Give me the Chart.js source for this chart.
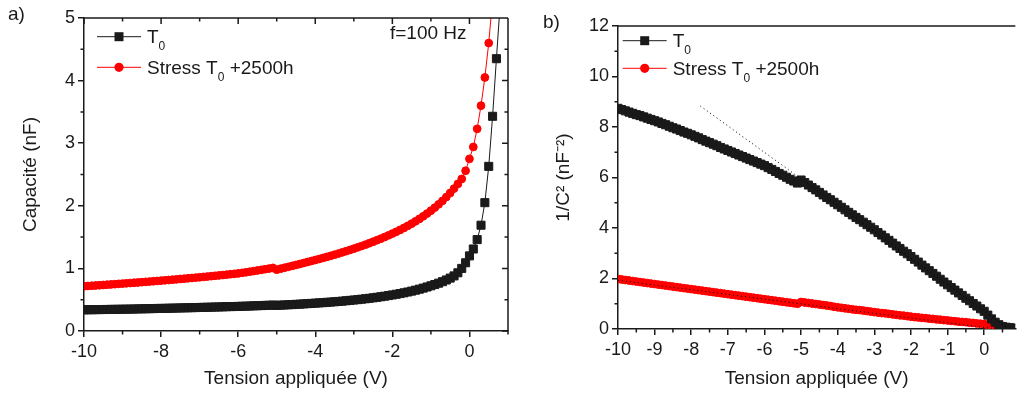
<!DOCTYPE html>
<html>
<head>
<meta charset="utf-8">
<script src="https://cdn.jsdelivr.net/npm/chart.js@4.4.1/dist/chart.umd.min.js"></script>
<style>
  body { margin: 0; background: #fff; }
  #left { position: absolute; left: 0; top: 0; }
  #right { position: absolute; left: 520px; top: 0; }
</style>
</head>
<body>
<canvas id="left" width="520" height="394"></canvas>
<canvas id="right" width="502" height="394"></canvas>
<script>
// applied voltage (V), one point every 0.1 V
const voltages = [
  -10.0, -9.9, -9.8, -9.7, -9.6, -9.5, -9.4, -9.3, -9.2, -9.1,
  -9.0, -8.9, -8.8, -8.7, -8.6, -8.5, -8.4, -8.3, -8.2, -8.1,
  -8.0, -7.9, -7.8, -7.7, -7.6, -7.5, -7.4, -7.3, -7.2, -7.1,
  -7.0, -6.9, -6.8, -6.7, -6.6, -6.5, -6.4, -6.3, -6.2, -6.1,
  -6.0, -5.9, -5.8, -5.7, -5.6, -5.5, -5.4, -5.3, -5.2, -5.1,
  -5.0, -4.9, -4.8, -4.7, -4.6, -4.5, -4.4, -4.3, -4.2, -4.1,
  -4.0, -3.9, -3.8, -3.7, -3.6, -3.5, -3.4, -3.3, -3.2, -3.1,
  -3.0, -2.9, -2.8, -2.7, -2.6, -2.5, -2.4, -2.3, -2.2, -2.1,
  -2.0, -1.9, -1.8, -1.7, -1.6, -1.5, -1.4, -1.3, -1.2, -1.1,
  -1.0, -0.9, -0.8, -0.7, -0.6, -0.5, -0.4, -0.3, -0.2, -0.1,
  0.0, 0.1, 0.2, 0.3, 0.4, 0.5, 0.6, 0.7, 0.8
];

// a) capacitance (nF)
const capT0 = [
  0.338, 0.339, 0.340, 0.341, 0.342, 0.343, 0.344, 0.345, 0.346, 0.347,
  0.348, 0.349, 0.350, 0.351, 0.353, 0.354, 0.355, 0.357, 0.358, 0.360,
  0.361, 0.362, 0.364, 0.365, 0.367, 0.368, 0.370, 0.371, 0.373, 0.374,
  0.376, 0.378, 0.379, 0.381, 0.383, 0.384, 0.386, 0.388, 0.390, 0.391,
  0.393, 0.395, 0.397, 0.399, 0.402, 0.404, 0.406, 0.409, 0.411, 0.414,
  0.410, 0.413, 0.416, 0.419, 0.422, 0.426, 0.429, 0.433, 0.437, 0.441,
  0.445, 0.449, 0.453, 0.458, 0.462, 0.467, 0.472, 0.477, 0.483, 0.489,
  0.495, 0.501, 0.508, 0.515, 0.522, 0.530, 0.538, 0.547, 0.556, 0.566,
  0.576, 0.587, 0.598, 0.610, 0.623, 0.637, 0.652, 0.668, 0.685, 0.703,
  0.722, 0.742, 0.764, 0.788, 0.815, 0.845, 0.880, 0.930, 1.000, 1.090,
  1.200, 1.310, 1.460, 1.690, 2.050, 2.630, 3.430, 4.350, 5.250
];
const capStress = [
  0.715, 0.719, 0.723, 0.727, 0.731, 0.735, 0.740, 0.744, 0.748, 0.753,
  0.757, 0.762, 0.766, 0.771, 0.775, 0.780, 0.785, 0.790, 0.795, 0.800,
  0.805, 0.810, 0.815, 0.820, 0.825, 0.831, 0.836, 0.842, 0.847, 0.853,
  0.858, 0.864, 0.870, 0.876, 0.882, 0.888, 0.894, 0.900, 0.907, 0.913,
  0.920, 0.929, 0.938, 0.947, 0.957, 0.967, 0.977, 0.987, 0.997, 1.008,
  0.980, 0.995, 1.010, 1.025, 1.040, 1.055, 1.070, 1.086, 1.102, 1.118,
  1.134, 1.150, 1.167, 1.184, 1.201, 1.219, 1.237, 1.256, 1.275, 1.295,
  1.315, 1.336, 1.357, 1.379, 1.402, 1.426, 1.450, 1.475, 1.501, 1.528,
  1.556, 1.585, 1.615, 1.647, 1.680, 1.715, 1.752, 1.791, 1.832, 1.876,
  1.922, 1.971, 2.023, 2.079, 2.140, 2.205, 2.275, 2.350, 2.430, 2.560,
  2.750, 2.940, 3.230, 3.600, 4.050, 4.600, 5.300, null, null
];

// b) 1/C^2 (nF^-2)
const invT0 = [
  8.74, 8.69, 8.64, 8.59, 8.54, 8.49, 8.45, 8.40, 8.35, 8.30,
  8.25, 8.20, 8.14, 8.09, 8.03, 7.97, 7.92, 7.86, 7.80, 7.75,
  7.69, 7.63, 7.57, 7.50, 7.44, 7.38, 7.32, 7.26, 7.19, 7.13,
  7.07, 7.01, 6.95, 6.89, 6.83, 6.77, 6.71, 6.65, 6.59, 6.53,
  6.47, 6.39, 6.32, 6.24, 6.16, 6.09, 6.01, 5.93, 5.86, 5.78,
  5.90, 5.80, 5.70, 5.60, 5.51, 5.41, 5.31, 5.21, 5.12, 5.02,
  4.92, 4.82, 4.72, 4.62, 4.52, 4.42, 4.33, 4.23, 4.13, 4.03,
  3.93, 3.82, 3.72, 3.61, 3.51, 3.40, 3.29, 3.19, 3.08, 2.98,
  2.87, 2.76, 2.65, 2.53, 2.42, 2.31, 2.20, 2.09, 1.97, 1.86,
  1.75, 1.64, 1.54, 1.43, 1.33, 1.22, 1.12, 1.01, 0.91, 0.80,
  0.70, 0.55, 0.40, 0.27, 0.17, 0.10, 0.07, 0.05, 0.04
];
const invStress = [
  1.98, 1.96, 1.94, 1.92, 1.90, 1.88, 1.86, 1.84, 1.82, 1.80,
  1.78, 1.76, 1.74, 1.72, 1.70, 1.68, 1.66, 1.64, 1.62, 1.60,
  1.58, 1.56, 1.54, 1.52, 1.50, 1.48, 1.46, 1.44, 1.42, 1.40,
  1.38, 1.36, 1.34, 1.32, 1.30, 1.28, 1.26, 1.24, 1.22, 1.20,
  1.18, 1.16, 1.14, 1.12, 1.10, 1.08, 1.06, 1.04, 1.02, 1.00,
  1.07, 1.05, 1.03, 1.01, 0.99, 0.97, 0.95, 0.93, 0.91, 0.88,
  0.86, 0.84, 0.82, 0.80, 0.78, 0.76, 0.75, 0.73, 0.71, 0.69,
  0.67, 0.65, 0.63, 0.62, 0.60, 0.58, 0.56, 0.54, 0.53, 0.51,
  0.49, 0.47, 0.46, 0.44, 0.43, 0.41, 0.40, 0.38, 0.37, 0.35,
  0.34, 0.32, 0.31, 0.29, 0.28, 0.27, 0.25, 0.24, 0.22, 0.21,
  0.20, 0.16, 0.12, 0.08, 0.06, 0.05, 0.04, null, null
];

// linear fits shown as dotted lines on b)
const fitT0V = [-7.75, 0.67];
const fitT0Y = [8.83, 0];
const fitStressV = [-10, 0.33];
const fitStressY = [1.93, 0];

const FONT = "'Liberation Sans', Arial, sans-serif";
const INK = "#1a1a1a";
const RED = "#ff0000";

function points(xs, ys) {
  return xs.map(function (x, i) { return { x: x, y: ys[i] }; });
}

function drawParts(ctx, parts, x, y) {
  parts.forEach(function (p) {
    ctx.font = (p[1] ? "12px " : "19px ") + FONT;
    ctx.fillText(p[0], x, p[1] ? y + 7 : y);
    x += ctx.measureText(p[0]).width;
  });
}

function drawMarker(ctx, style, x, y) {
  ctx.beginPath();
  if (style === "rect") {
    ctx.rect(x - 4.5, y - 4.5, 9, 9);
  } else {
    ctx.arc(x, y, 4.6, 0, Math.PI * 2);
  }
  ctx.fill();
}

function minorValues(scale) {
  const t = scale.ticks.map(function (k) { return k.value; });
  const step = t[1] - t[0];
  const out = [];
  for (let i = 0; i < t.length; i++) {
    const m = t[i] + step / 2;
    if (m <= scale.max) out.push(m);
  }
  return out;
}

// minor ticks, mirrored frame, legend and panel labels
const decor = {
  id: "decor",
  afterDraw(chart, args, opts) {
    const ctx = chart.ctx;
    const a = chart.chartArea;
    const xs = chart.scales.x;
    const ys = chart.scales.y;
    ctx.save();
    ctx.strokeStyle = INK;
    ctx.lineWidth = 1.5;
    ctx.beginPath();
    ctx.moveTo(a.left, a.top);
    ctx.lineTo(a.right, a.top);
    minorValues(xs).forEach(function (v) {
      const px = xs.getPixelForValue(v);
      ctx.moveTo(px, a.bottom);
      ctx.lineTo(px, a.bottom + 3.5);
    });
    minorValues(ys).forEach(function (v) {
      const py = ys.getPixelForValue(v);
      ctx.moveTo(a.left, py);
      ctx.lineTo(a.left - 3.5, py);
    });
    if (opts.mirror) {
      ctx.moveTo(a.right, a.top);
      ctx.lineTo(a.right, a.bottom);
      xs.ticks.forEach(function (k) {
        const px = xs.getPixelForValue(k.value);
        ctx.moveTo(px, a.top);
        ctx.lineTo(px, a.top + 6);
      });
      minorValues(xs).forEach(function (v) {
        const px = xs.getPixelForValue(v);
        ctx.moveTo(px, a.top);
        ctx.lineTo(px, a.top + 3.5);
      });
      ys.ticks.forEach(function (k) {
        const py = ys.getPixelForValue(k.value);
        ctx.moveTo(a.right, py);
        ctx.lineTo(a.right - 6, py);
      });
      minorValues(ys).forEach(function (v) {
        const py = ys.getPixelForValue(v);
        ctx.moveTo(a.right, py);
        ctx.lineTo(a.right - 3.5, py);
      });
    }
    ctx.stroke();

    // legend
    const lg = opts.legend;
    const entries = [
      { color: INK, style: "rect", parts: [["T", 0], ["0", 1]] },
      { color: RED, style: "circle", parts: [["Stress T", 0], ["0", 1], [" +2500h", 0]] }
    ];
    entries.forEach(function (e, i) {
      const y = lg.y + i * lg.gap;
      ctx.strokeStyle = e.color;
      ctx.fillStyle = e.color;
      ctx.lineWidth = 1;
      ctx.beginPath();
      ctx.moveTo(lg.x, y);
      ctx.lineTo(lg.x + 44, y);
      ctx.stroke();
      drawMarker(ctx, e.style, lg.x + 22, y);
      ctx.fillStyle = INK;
      ctx.textBaseline = "alphabetic";
      drawParts(ctx, e.parts, lg.x + 50, y + 6.6);
    });

    ctx.fillStyle = INK;
    ctx.font = "19px " + FONT;
    ctx.fillText(opts.panel, opts.panelX, opts.panelY);
    if (opts.note) ctx.fillText(opts.note, opts.noteX, opts.noteY);
    ctx.restore();
  }
};

function axisX(max, step, height) {
  return {
    type: "linear",
    min: -10,
    max: max,
    afterFit: function (s) { s.height = height; },
    border: { color: INK, width: 1.5 },
    grid: { drawOnChartArea: false, color: INK, lineWidth: 1.5, tickLength: 6 },
    ticks: {
      stepSize: step, includeBounds: false, padding: 4, color: INK,
      maxRotation: 0, autoSkip: false, font: { family: FONT, size: 18 }
    },
    title: {
      display: true, text: "Tension appliquée (V)", color: INK,
      font: { family: FONT, size: 19 }, padding: { top: 0, bottom: 4 }
    }
  };
}

function axisY(max, step, width, title, titlePad) {
  return {
    type: "linear",
    min: 0,
    max: max,
    afterFit: function (s) { s.width = width; },
    border: { color: INK, width: 1.5 },
    grid: { drawOnChartArea: false, color: INK, lineWidth: 1.5, tickLength: 6 },
    ticks: { stepSize: step, padding: 3, color: INK, font: { family: FONT, size: 18 } },
    title: {
      display: true, text: title, color: INK,
      font: { family: FONT, size: 19 }, padding: { top: titlePad, bottom: 0 }
    }
  };
}

function dataset(label, data, color, style, radius) {
  return {
    label: label,
    data: data,
    borderColor: color,
    backgroundColor: color,
    borderWidth: 1,
    pointStyle: style,
    pointRadius: radius,
    pointBorderWidth: 1,
    pointHoverRadius: radius,
    clip: 0
  };
}

function fitSet(xs, ys) {
  return {
    data: points(xs, ys),
    borderColor: "#000",
    borderWidth: 1,
    borderDash: [1, 3],
    pointRadius: 0,
    clip: 0
  };
}

new Chart(document.getElementById("left"), {
  type: "line",
  data: {
    datasets: [
      dataset("T0", points(voltages, capT0), INK, "rect", 5.7),
      dataset("Stress T0 +2500h", points(voltages, capStress), RED, "circle", 3.9)
    ]
  },
  options: {
    responsive: false,
    animation: false,
    layout: { padding: { top: 18, right: 12, left: 0, bottom: 0 } },
    scales: {
      x: axisX(1, 2, 63),
      y: axisY(5, 1, 84, "Capacité (nF)", 19)
    },
    plugins: {
      legend: { display: false },
      tooltip: { enabled: false },
      decor: {
        mirror: true,
        legend: { x: 97, y: 36.7, gap: 30.6 },
        panel: "a)", panelX: 8, panelY: 20,
        note: "f=100 Hz", noteX: 390, noteY: 38.5
      }
    }
  },
  plugins: [decor]
});

new Chart(document.getElementById("right"), {
  type: "line",
  data: {
    datasets: [
      fitSet(fitT0V, fitT0Y),
      fitSet(fitStressV, fitStressY),
      dataset("T0", points(voltages, invT0), INK, "rect", 5.7),
      dataset("Stress T0 +2500h", points(voltages, invStress), RED, "circle", 3.9)
    ]
  },
  options: {
    responsive: false,
    animation: false,
    layout: { padding: { top: 26, right: 0, left: 0, bottom: 0 } },
    scales: {
      x: axisX(0.85, 1, 65),
      y: axisY(12, 2, 98, "1/C² (nF⁻²)", 32)
    },
    plugins: {
      legend: { display: false },
      tooltip: { enabled: false },
      decor: {
        mirror: false,
        legend: { x: 102.7, y: 40.7, gap: 27.6 },
        panel: "b)", panelX: 23, panelY: 28
      }
    }
  },
  plugins: [decor]
});
</script>
</body>
</html>
